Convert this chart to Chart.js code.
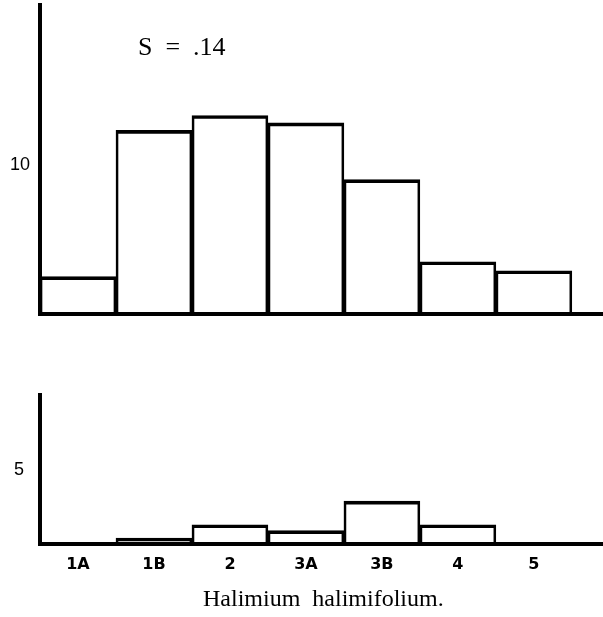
<!DOCTYPE html>
<html>
<head>
<meta charset="utf-8">
<script src="https://cdn.jsdelivr.net/npm/chart.js"></script>
<style>
  body { margin: 0; background: #fff; width: 603px; height: 617px; position: relative; overflow: hidden; }
  canvas { position: absolute; left: 0; }
  #upper { top: 0; }
  #lower { top: 380px; }
  .note { position: absolute; font-family: "Liberation Serif", serif; color: #000; white-space: pre; }
  #stat { left: 138px; top: 32px; font-size: 26px; line-height: 30px; }
  #species { left: 203px; top: 584px; font-size: 24px; line-height: 28px; }
</style>
</head>
<body>
<canvas id="upper" width="603" height="320"></canvas>
<canvas id="lower" width="603" height="237"></canvas>
<div class="note" id="stat">S  =  .14</div>
<div class="note" id="species">Halimium  halimifolium.</div>

<script>
// classes along the bottom
const categories = ["1A", "1B", "2", "3A", "3B", "4", "5"];
// upper histogram
const upperCounts = [2.5, 12.3, 13.3, 12.8, 9.0, 3.5, 2.9];
// lower histogram
const lowerCounts = [0, 0.4, 1.3, 0.9, 2.9, 1.3, 0];
// the only labelled values on each y axis
const upperTicks = [10];
const lowerTicks = [5];

const xMax = 7.41; // baseline runs past the last class

// stop the axes from reserving room for half a tick label
const noPad = (s) => {
  s.paddingTop = 0;
  s.paddingBottom = 0;
  s.paddingLeft = 0;
  s.paddingRight = 0;
};

const histogram = (id, counts, yMax, yTicks, o) => {
  const ctx = document.getElementById(id);
  return new Chart(ctx, {
    type: "bar",
    data: {
      datasets: [
        {
          data: categories.map((c, i) => ({ x: i + 0.5, y: counts[i] })),
          backgroundColor: "rgba(0,0,0,0)",
          borderColor: "#000",
          borderWidth: { top: 3, left: 2, right: 2, bottom: 0 },
          barPercentage: 1,
          categoryPercentage: 1,
        },
      ],
    },
    options: {
      responsive: false,
      animation: false,
      layout: { padding: { top: o.padTop, left: 0, right: 0, bottom: 0 } },
      plugins: { legend: { display: false }, tooltip: { enabled: false } },
      scales: {
        x: {
          type: "linear",
          offset: false,
          min: 0,
          max: xMax,
          grid: { display: false, drawTicks: false },
          border: { display: true, width: 4, color: "#000" },
          ticks: {
            display: o.showLabels,
            padding: 11,
            autoSkip: false,
            maxRotation: 0,
            color: "#000",
            font: { family: "DejaVu Sans", size: 16, weight: "bold" },
            callback: (v) => categories[Math.floor(v)],
          },
          afterBuildTicks: (s) => {
            s.ticks = categories.map((c, i) => ({ value: i + 0.5 }));
          },
          afterFit: (s) => {
            s.height = o.xHeight;
            noPad(s);
          },
        },
        y: {
          min: 0,
          max: yMax,
          grid: { display: false, drawTicks: false },
          border: { display: true, width: 4, color: "#000" },
          ticks: {
            padding: o.tickPad,
            color: "#000",
            font: { family: "Liberation Sans", size: 18 },
          },
          afterBuildTicks: (s) => {
            s.ticks = yTicks.map((v) => ({ value: v }));
          },
          afterFit: (s) => {
            s.width = 40;
            noPad(s);
          },
        },
      },
    },
  });
};

histogram("upper", upperCounts, 20.7, upperTicks, { padTop: 5, xHeight: 6, showLabels: false, tickPad: 10 });
histogram("lower", lowerCounts, 10.07, lowerTicks, { padTop: 15, xHeight: 73, showLabels: true, tickPad: 16 });
</script>
</body>
</html>
